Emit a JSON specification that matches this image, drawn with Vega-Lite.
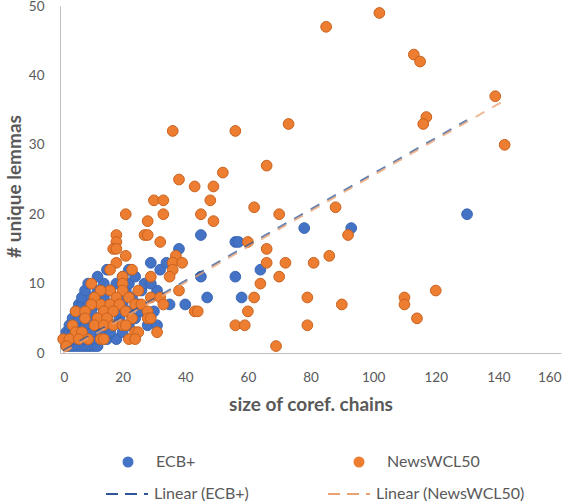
{
  "$schema": "https://vega.github.io/schema/vega-lite/v6.json",
  "width": 501,
  "height": 347,
  "autosize": {"type": "none"},
  "padding": {"left": 60, "top": 6, "right": 13, "bottom": 149},
  "background": "white",
  "config": {
    "view": {"stroke": null},
    "font": "Lato",
    "axis": {"grid": false, "ticks": false, "domainColor": "#BFBFBF", "domainWidth": 1, "labelColor": "#595959", "labelFontSize": 13.5, "titleColor": "#595959", "titleFontSize": 19, "titleFontWeight": "bold", "labelFont": "Lato", "titleFont": "Lato"},
    "legend": {"labelColor": "#595959", "labelFontSize": 16, "labelFont": "Lato", "padding": 0}
  },
  "datasets": {
    "pts": [
      {"x":2,"y":1,"series":"ECB+"},{"x":3,"y":1,"series":"ECB+"},{"x":4,"y":1,"series":"ECB+"},{"x":5,"y":1,"series":"ECB+"},{"x":6,"y":1,"series":"ECB+"},{"x":7,"y":1,"series":"ECB+"},{"x":8,"y":1,"series":"ECB+"},{"x":9,"y":1,"series":"ECB+"},{"x":10,"y":1,"series":"ECB+"},{"x":11,"y":1,"series":"ECB+"},{"x":12,"y":1,"series":"ECB+"},
      {"x":2,"y":2,"series":"ECB+"},{"x":3,"y":2,"series":"ECB+"},{"x":4,"y":2,"series":"ECB+"},{"x":5,"y":2,"series":"ECB+"},{"x":6,"y":2,"series":"ECB+"},{"x":8,"y":2,"series":"ECB+"},{"x":10,"y":2,"series":"ECB+"},{"x":12,"y":2,"series":"ECB+"},{"x":15,"y":2,"series":"ECB+"},{"x":18,"y":2,"series":"ECB+"},
      {"x":2,"y":3,"series":"ECB+"},{"x":3,"y":3,"series":"ECB+"},{"x":4,"y":3,"series":"ECB+"},{"x":6,"y":3,"series":"ECB+"},{"x":8,"y":3,"series":"ECB+"},{"x":10,"y":3,"series":"ECB+"},{"x":13,"y":3,"series":"ECB+"},{"x":16,"y":3,"series":"ECB+"},{"x":20,"y":3,"series":"ECB+"},
      {"x":3,"y":4,"series":"ECB+"},{"x":5,"y":4,"series":"ECB+"},{"x":6,"y":4,"series":"ECB+"},{"x":8,"y":4,"series":"ECB+"},{"x":11,"y":4,"series":"ECB+"},{"x":14,"y":4,"series":"ECB+"},{"x":17,"y":4,"series":"ECB+"},{"x":22,"y":4,"series":"ECB+"},{"x":28,"y":4,"series":"ECB+"},{"x":31,"y":4,"series":"ECB+"},
      {"x":4,"y":5,"series":"ECB+"},{"x":6,"y":5,"series":"ECB+"},{"x":9,"y":5,"series":"ECB+"},{"x":12,"y":5,"series":"ECB+"},{"x":15,"y":5,"series":"ECB+"},{"x":19,"y":5,"series":"ECB+"},{"x":24,"y":5,"series":"ECB+"},
      {"x":5,"y":6,"series":"ECB+"},{"x":7,"y":6,"series":"ECB+"},{"x":10,"y":6,"series":"ECB+"},{"x":14,"y":6,"series":"ECB+"},{"x":18,"y":6,"series":"ECB+"},{"x":22,"y":6,"series":"ECB+"},{"x":26,"y":6,"series":"ECB+"},{"x":30,"y":6,"series":"ECB+"},
      {"x":6,"y":7,"series":"ECB+"},{"x":7,"y":7,"series":"ECB+"},{"x":9,"y":7,"series":"ECB+"},{"x":12,"y":7,"series":"ECB+"},{"x":16,"y":7,"series":"ECB+"},{"x":20,"y":7,"series":"ECB+"},{"x":25,"y":7,"series":"ECB+"},{"x":35,"y":7,"series":"ECB+"},{"x":40,"y":7,"series":"ECB+"},
      {"x":7,"y":8,"series":"ECB+"},{"x":10,"y":8,"series":"ECB+"},{"x":14,"y":8,"series":"ECB+"},{"x":19,"y":8,"series":"ECB+"},{"x":23,"y":8,"series":"ECB+"},{"x":47,"y":8,"series":"ECB+"},{"x":58,"y":8,"series":"ECB+"},
      {"x":8,"y":9,"series":"ECB+"},{"x":12,"y":9,"series":"ECB+"},{"x":16,"y":9,"series":"ECB+"},{"x":21,"y":9,"series":"ECB+"},{"x":26,"y":9,"series":"ECB+"},{"x":31,"y":9,"series":"ECB+"},
      {"x":9,"y":10,"series":"ECB+"},{"x":14,"y":10,"series":"ECB+"},{"x":18,"y":10,"series":"ECB+"},{"x":22,"y":10,"series":"ECB+"},{"x":27,"y":10,"series":"ECB+"},{"x":29,"y":10,"series":"ECB+"},
      {"x":12,"y":11,"series":"ECB+"},{"x":20,"y":11,"series":"ECB+"},{"x":24,"y":11,"series":"ECB+"},{"x":45,"y":11,"series":"ECB+"},{"x":56,"y":11,"series":"ECB+"},
      {"x":15,"y":12,"series":"ECB+"},{"x":22,"y":12,"series":"ECB+"},{"x":32,"y":12,"series":"ECB+"},{"x":64,"y":12,"series":"ECB+"},
      {"x":29,"y":13,"series":"ECB+"},{"x":34,"y":13,"series":"ECB+"},{"x":38,"y":15,"series":"ECB+"},{"x":56,"y":16,"series":"ECB+"},{"x":57,"y":16,"series":"ECB+"},{"x":45,"y":17,"series":"ECB+"},{"x":78,"y":18,"series":"ECB+"},{"x":93,"y":18,"series":"ECB+"},{"x":130,"y":20,"series":"ECB+"},
      {"x":85,"y":47,"series":"NewsWCL50"},{"x":102,"y":49,"series":"NewsWCL50"},{"x":113,"y":43,"series":"NewsWCL50"},{"x":115,"y":42,"series":"NewsWCL50"},{"x":139,"y":37,"series":"NewsWCL50"},{"x":142,"y":30,"series":"NewsWCL50"},{"x":117,"y":34,"series":"NewsWCL50"},{"x":116,"y":33,"series":"NewsWCL50"},{"x":73,"y":33,"series":"NewsWCL50"},{"x":36,"y":32,"series":"NewsWCL50"},{"x":56,"y":32,"series":"NewsWCL50"},{"x":66,"y":27,"series":"NewsWCL50"},{"x":52,"y":26,"series":"NewsWCL50"},{"x":38,"y":25,"series":"NewsWCL50"},{"x":43,"y":24,"series":"NewsWCL50"},{"x":49,"y":24,"series":"NewsWCL50"},{"x":30,"y":22,"series":"NewsWCL50"},{"x":33,"y":22,"series":"NewsWCL50"},{"x":48,"y":22,"series":"NewsWCL50"},{"x":62,"y":21,"series":"NewsWCL50"},{"x":88,"y":21,"series":"NewsWCL50"},{"x":21,"y":20,"series":"NewsWCL50"},{"x":33,"y":20,"series":"NewsWCL50"},{"x":45,"y":20,"series":"NewsWCL50"},{"x":70,"y":20,"series":"NewsWCL50"},{"x":28,"y":19,"series":"NewsWCL50"},{"x":49,"y":19,"series":"NewsWCL50"},{"x":18,"y":17,"series":"NewsWCL50"},{"x":27,"y":17,"series":"NewsWCL50"},{"x":28,"y":17,"series":"NewsWCL50"},{"x":92,"y":17,"series":"NewsWCL50"},{"x":18,"y":16,"series":"NewsWCL50"},{"x":32,"y":16,"series":"NewsWCL50"},{"x":60,"y":16,"series":"NewsWCL50"},{"x":17,"y":15,"series":"NewsWCL50"},{"x":18,"y":15,"series":"NewsWCL50"},{"x":66,"y":15,"series":"NewsWCL50"},{"x":21,"y":14,"series":"NewsWCL50"},{"x":37,"y":14,"series":"NewsWCL50"},{"x":86,"y":14,"series":"NewsWCL50"},{"x":36,"y":13,"series":"NewsWCL50"},{"x":39,"y":13,"series":"NewsWCL50"},{"x":18,"y":13,"series":"NewsWCL50"},{"x":66,"y":13,"series":"NewsWCL50"},{"x":72,"y":13,"series":"NewsWCL50"},{"x":81,"y":13,"series":"NewsWCL50"},{"x":16,"y":12,"series":"NewsWCL50"},{"x":23,"y":12,"series":"NewsWCL50"},{"x":36,"y":12,"series":"NewsWCL50"},{"x":35,"y":11,"series":"NewsWCL50"},{"x":29,"y":11,"series":"NewsWCL50"},{"x":20,"y":11,"series":"NewsWCL50"},{"x":70,"y":11,"series":"NewsWCL50"},{"x":10,"y":10,"series":"NewsWCL50"},{"x":20,"y":10,"series":"NewsWCL50"},{"x":64,"y":10,"series":"NewsWCL50"},{"x":16,"y":9,"series":"NewsWCL50"},{"x":20,"y":9,"series":"NewsWCL50"},{"x":25,"y":9,"series":"NewsWCL50"},{"x":38,"y":9,"series":"NewsWCL50"},{"x":120,"y":9,"series":"NewsWCL50"},{"x":13,"y":9,"series":"NewsWCL50"},{"x":22,"y":8,"series":"NewsWCL50"},{"x":29,"y":8,"series":"NewsWCL50"},{"x":32,"y":8,"series":"NewsWCL50"},{"x":62,"y":8,"series":"NewsWCL50"},{"x":79,"y":8,"series":"NewsWCL50"},{"x":110,"y":8,"series":"NewsWCL50"},{"x":11,"y":8,"series":"NewsWCL50"},{"x":18,"y":8,"series":"NewsWCL50"},{"x":13,"y":7,"series":"NewsWCL50"},{"x":16,"y":7,"series":"NewsWCL50"},{"x":33,"y":7,"series":"NewsWCL50"},{"x":90,"y":7,"series":"NewsWCL50"},{"x":110,"y":7,"series":"NewsWCL50"},{"x":10,"y":7,"series":"NewsWCL50"},{"x":19,"y":7,"series":"NewsWCL50"},{"x":24,"y":7,"series":"NewsWCL50"},{"x":26,"y":7,"series":"NewsWCL50"},{"x":5,"y":6,"series":"NewsWCL50"},{"x":8,"y":6,"series":"NewsWCL50"},{"x":14,"y":6,"series":"NewsWCL50"},{"x":17,"y":6,"series":"NewsWCL50"},{"x":21,"y":6,"series":"NewsWCL50"},{"x":28,"y":6,"series":"NewsWCL50"},{"x":43,"y":6,"series":"NewsWCL50"},{"x":44,"y":6,"series":"NewsWCL50"},{"x":60,"y":6,"series":"NewsWCL50"},{"x":8,"y":5,"series":"NewsWCL50"},{"x":12,"y":5,"series":"NewsWCL50"},{"x":15,"y":5,"series":"NewsWCL50"},{"x":23,"y":5,"series":"NewsWCL50"},{"x":28,"y":5,"series":"NewsWCL50"},{"x":29,"y":5,"series":"NewsWCL50"},{"x":114,"y":5,"series":"NewsWCL50"},{"x":4,"y":4,"series":"NewsWCL50"},{"x":11,"y":4,"series":"NewsWCL50"},{"x":14,"y":4,"series":"NewsWCL50"},{"x":17,"y":4,"series":"NewsWCL50"},{"x":20,"y":4,"series":"NewsWCL50"},{"x":21,"y":4,"series":"NewsWCL50"},{"x":56,"y":4,"series":"NewsWCL50"},{"x":59,"y":4,"series":"NewsWCL50"},{"x":79,"y":4,"series":"NewsWCL50"},{"x":5,"y":3,"series":"NewsWCL50"},{"x":7,"y":3,"series":"NewsWCL50"},{"x":24,"y":3,"series":"NewsWCL50"},{"x":25,"y":3,"series":"NewsWCL50"},{"x":31,"y":3,"series":"NewsWCL50"},{"x":1,"y":2,"series":"NewsWCL50"},{"x":3,"y":2,"series":"NewsWCL50"},{"x":6,"y":2,"series":"NewsWCL50"},{"x":9,"y":2,"series":"NewsWCL50"},{"x":13,"y":2,"series":"NewsWCL50"},{"x":14,"y":2,"series":"NewsWCL50"},{"x":22,"y":2,"series":"NewsWCL50"},{"x":24,"y":2,"series":"NewsWCL50"},{"x":2,"y":1,"series":"NewsWCL50"},{"x":69,"y":1,"series":"NewsWCL50"}
    ],
    "trends": [
      {"x":1,"y":0.35,"trend":"Linear (ECB+)"},{"x":130,"y":33.55,"trend":"Linear (ECB+)"},
      {"x":1,"y":0.1,"trend":"Linear (NewsWCL50)"},{"x":142,"y":36.4,"trend":"Linear (NewsWCL50)"}
    ]
  },
  "layer": [
    {
      "data": {"name": "pts"},
      "mark": {"type": "point", "shape": "circle", "filled": true, "size": 115, "strokeWidth": 1, "opacity": 1},
      "encoding": {
        "x": {"field": "x", "type": "quantitative", "scale": {"domain": [0, 160], "nice": false}, "axis": {"values": [0,20,40,60,80,100,120,140,160], "title": "size of coref. chains", "labelPadding": 17, "titlePadding": 12}},
        "y": {"field": "y", "type": "quantitative", "scale": {"domain": [0, 50], "nice": false}, "axis": {"values": [0,5,10,15,20,25,30,35,40,45,50], "title": "# unique lemmas", "labelPadding": 16, "titlePadding": 4, "titleY": 180}},
        "fill": {"field": "series", "type": "nominal", "scale": {"domain": ["ECB+", "NewsWCL50"], "range": ["#4472C4", "#ED7D31"]}, "legend": {"title": null, "orient": "none", "legendX": 60, "legendY": 448, "direction": "horizontal", "columns": 2, "columnPadding": 155, "symbolType": "circle", "symbolSize": 121, "symbolStrokeWidth": 0, "labelOffset": 20}},
        "stroke": {"field": "series", "type": "nominal", "scale": {"domain": ["ECB+", "NewsWCL50"], "range": ["#3A66B5", "#C9621E"]}, "legend": null}
      }
    },
    {
      "data": {"name": "trends"},
      "mark": {"type": "line", "strokeWidth": 2, "strokeDash": [10, 9]},
      "encoding": {
        "x": {"field": "x", "type": "quantitative"},
        "y": {"field": "y", "type": "quantitative"},
        "stroke": {"field": "trend", "type": "nominal", "scale": {"domain": ["Linear (ECB+)", "Linear (NewsWCL50)"], "range": ["#2F5597", "#E9A271"]}, "legend": {"title": null, "orient": "none", "legendX": 45, "legendY": 466, "direction": "horizontal", "columns": 2, "columnPadding": 74, "symbolType": "stroke", "symbolSize": 1764, "symbolStrokeWidth": 2, "symbolDash": [12, 7], "labelOffset": 5, "symbolOpacity": 1}},
        "opacity": {"value": 0.75}
      }
    }
  ],
  "resolve": {"scale": {"stroke": "independent"}}
}
